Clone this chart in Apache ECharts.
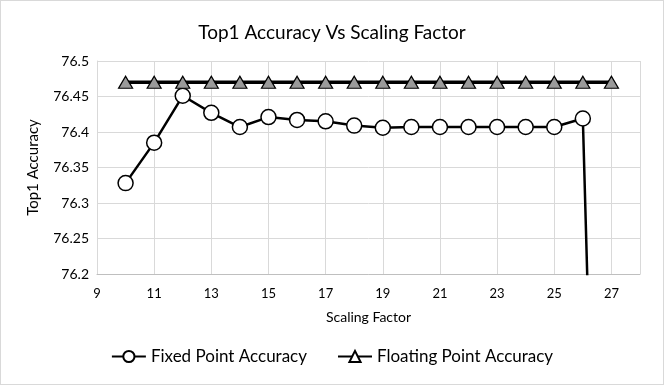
<!DOCTYPE html>
<html>
<head>
<meta charset="utf-8">
<script src="https://cdn.jsdelivr.net/npm/echarts@6/dist/echarts.min.js"></script>
<style>
  html, body { margin: 0; padding: 0; background: #fff; }
  #chart { width: 662px; height: 383px; border: 1px solid #d9d9d9; }
</style>
</head>
<body>
<div id="chart"></div>
<script>
// scaling factor values (x)
const fixedX = [10, 11, 12, 13, 14, 15, 16, 17, 18, 19, 20, 21, 22, 23, 24, 25, 26, 27];
const fixedAcc = [76.328, 76.385, 76.451, 76.427, 76.407, 76.421, 76.417, 76.415, 76.409,
  76.406, 76.407, 76.407, 76.407, 76.407, 76.407, 76.407, 76.419, 74.98];

const floatX = [10, 11, 12, 13, 14, 15, 16, 17, 18, 19, 20, 21, 22, 23, 24, 25, 26, 27];
const floatAcc = [76.47, 76.47, 76.47, 76.47, 76.47, 76.47, 76.47, 76.47, 76.47,
  76.47, 76.47, 76.47, 76.47, 76.47, 76.47, 76.47, 76.47, 76.47];

const zip = (xs, ys) => xs.map((x, i) => [x, ys[i]]);

const chart = echarts.init(document.getElementById("chart"));
const font = "Lato";

chart.setOption({
  animation: false,
  textStyle: { fontFamily: font },
  title: {
    text: "Top1 Accuracy Vs Scaling Factor",
    left: "center",
    top: 17,
    textStyle: { fontFamily: font, fontSize: 19, fontWeight: "normal", color: "#000" },
  },
  grid: { left: 96, right: 23, top: 60, bottom: 110 },
  legend: {
    bottom: 14,
    left: "center",
    itemGap: 30,
    itemWidth: 34,
    itemHeight: 14,
    textStyle: { fontFamily: font, fontSize: 17, color: "#000" },
    data: [
      { name: "Fixed Point Accuracy" },
      { name: "Floating Point Accuracy", itemStyle: { color: "#fff" } },
    ],
  },
  xAxis: {
    type: "value",
    min: 9,
    max: 28,
    interval: 2,
    name: "Scaling Factor",
    nameLocation: "middle",
    nameGap: 36,
    nameTextStyle: { fontFamily: font, fontSize: 14, color: "#000" },
    axisLine: { lineStyle: { color: "#bfbfbf" } },
    axisTick: { show: false },
    axisLabel: { showMaxLabel: false, fontSize: 13, color: "#000", margin: 13 },
    splitLine: { lineStyle: { color: "#d9d9d9" } },
  },
  yAxis: {
    type: "value",
    min: 76.2,
    max: 76.5,
    interval: 0.05,
    name: "Top1 Accuracy",
    nameLocation: "middle",
    nameGap: 56,
    nameTextStyle: { fontFamily: font, fontSize: 15, color: "#000" },
    axisLine: { show: true, lineStyle: { color: "#d9d9d9" } },
    axisTick: { show: false },
    axisLabel: { fontSize: 14, color: "#000", margin: 8 },
    splitLine: { lineStyle: { color: "#d9d9d9" } },
  },
  series: [
    {
      name: "Fixed Point Accuracy",
      type: "line",
      data: zip(fixedX, fixedAcc),
      clip: true,
      symbol: "circle",
      symbolSize: 15,
      showAllSymbol: true,
      lineStyle: { color: "#000", width: 2.5 },
      itemStyle: { color: "#fff", borderColor: "#000", borderWidth: 1.5 },
    },
    {
      name: "Floating Point Accuracy",
      type: "line",
      data: zip(floatX, floatAcc),
      symbol: "triangle",
      symbolSize: [14, 12],
      lineStyle: { color: "#000", width: 3.5 },
      itemStyle: { color: "#9a9a9a", borderColor: "#000", borderWidth: 1.2 },
    },
  ],
});
</script>
</body>
</html>
